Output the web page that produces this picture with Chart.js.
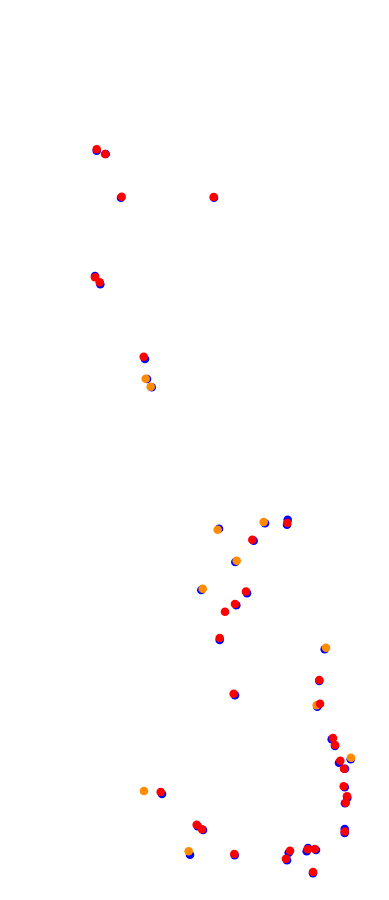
<!DOCTYPE html>
<html>
<head>
<meta charset="utf-8">
<script src="https://cdn.jsdelivr.net/npm/chart.js@4/dist/chart.umd.min.js"></script>
<style>
html,body{margin:0;padding:0;background:#fff;}
#wrap{width:389px;height:900px;}
</style>
</head>
<body>
<div id="wrap"><canvas id="c" width="389" height="900"></canvas></div>
<script>
// Blue series (x, y)
const blueX = [96.7,105.7,121,214,95,100.3,145,147,151.7,219,265,287.7,287,253.7,235.3,201.3,247,236.3,219.7,324.7,319.3,235,317.3,331.7,335,350.7,339,345,344.7,347.3,345,344.7,344.7,162,197.7,203,190,234.7,288.7,287,308,306.7,316,313];
const blueY = [150.7,154,197.7,197.7,276,284.3,359,379,387.3,528.7,523.3,519.7,524.7,540.7,562,590,593.3,605.3,640,649.3,681,695.3,706.7,739.3,746,759.3,762.7,768.7,787.3,798,803.3,829,833,794,826.3,830,854.7,855.3,852.7,860.3,848,851.3,850,873.3];
// Orange series
const orangeX = [145.7,150.7,217.7,263.7,236.7,202.7,326,316.7,351,144,188.7];
const orangeY = [378.7,386.7,529.7,522,560.7,588.7,647.7,705.3,757.7,791,851.3];
// Red series
const redX = [96.7,105,121.7,213.7,95,99.7,143.7,287.3,252.3,246,235,225,219.7,319.3,233.7,320,333,335,340.3,344,343.7,347,345.7,344.7,160.7,196.7,202,234.3,290,286,307.7,314.7,313];
const redY = [149.3,154,196.7,197,277.3,282.3,356.7,523,539.7,591.5,604,611.7,638,680,693.7,703.7,738,745,760.7,768.7,786.3,796.3,802.7,831.5,792,824.7,829.3,854,850.7,858.7,849.3,849,872];

const toPts = (xs, ys) => xs.map((x, i) => ({x: x, y: ys[i]}));

new Chart(document.getElementById('c'), {
  type: 'scatter',
  data: {
    datasets: [
      {label: 'blue', data: toPts(blueX, blueY), backgroundColor: '#0000ff', borderWidth: 0, pointRadius: 4.3, order: 3},
      {label: 'orange', data: toPts(orangeX, orangeY), backgroundColor: '#ff8c00', borderWidth: 0, pointRadius: 4.3, order: 2},
      {label: 'red', data: toPts(redX, redY), backgroundColor: '#ff0000', borderWidth: 0, pointRadius: 4.3, order: 1}
    ]
  },
  options: {
    responsive: false,
    animation: false,
    layout: {padding: 0, autoPadding: false},
    plugins: {legend: {display: false}, tooltip: {enabled: false}},
    scales: {
      x: {type: 'linear', min: 0, max: 389, display: false},
      y: {type: 'linear', min: 0, max: 900, reverse: true, display: false}
    }
  }
});
</script>
</body>
</html>
